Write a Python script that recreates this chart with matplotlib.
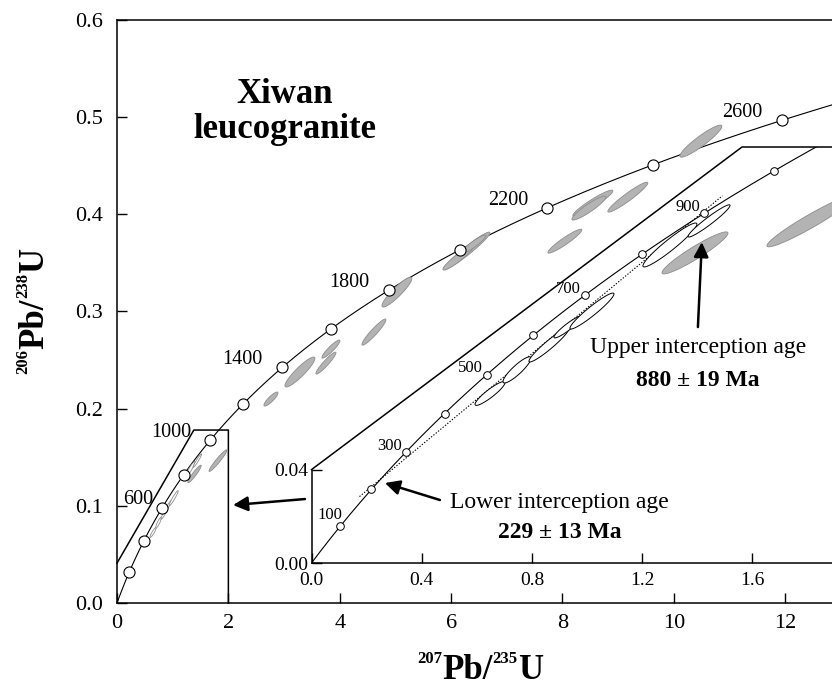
import numpy as np
import matplotlib
matplotlib.use('Agg')
import matplotlib.pyplot as plt

plt.rcParams['font.family'] = ['Liberation Serif', 'DejaVu Serif']

# decay constants (1/yr)
L238 = 1.55125e-10
L235 = 9.8485e-10

# concordia marker ages (Ma)
main_ages = [200, 400, 600, 800, 1000, 1200, 1400, 1600, 1800, 2000, 2200, 2400, 2600]
main_labels = [600, 1000, 1400, 1800, 2200, 2600]
inset_ages = [100, 200, 300, 400, 500, 600, 700, 800, 900, 1000]
inset_labels = [100, 300, 500, 700, 900]

# discordia intercepts (Ma)
lower_age = 229
upper_age = 880

# old grains, main panel only: 207Pb/235U, 206Pb/238U, half widths, rho
old_x = [2.765, 3.285, 3.752, 3.842, 4.614, 5.027, 6.302, 6.122, 6.409,
         8.546, 8.474, 9.174, 8.043, 10.485]
old_y = [0.2099, 0.2377, 0.2469, 0.2613, 0.2788, 0.3200, 0.3632, 0.3549, 0.3693,
         0.4115, 0.4064, 0.4177, 0.3724, 0.4753]
old_sx = [0.126, 0.269, 0.180, 0.162, 0.215, 0.269, 0.395, 0.269, 0.215,
          0.359, 0.305, 0.359, 0.305, 0.377]
old_sy = [0.0072, 0.0154, 0.0113, 0.0093, 0.0134, 0.0154, 0.0185, 0.0123, 0.0093,
          0.0134, 0.0123, 0.0154, 0.0123, 0.0165]
old_rho = [0.87, 0.91, 0.94, 0.92, 0.94, 0.91, 0.96, 0.93, 0.92,
           0.94, 0.92, 0.95, 0.94, 0.925]

# young grains, shown in both panels
young_x = [0.648, 0.746, 0.862, 0.931, 1.018, 1.301, 1.443, 1.392, 1.813]
young_y = [0.0726, 0.0827, 0.0934, 0.1011, 0.1079, 0.1362, 0.1465, 0.1328, 0.1465]
young_sx = [0.0544, 0.0508, 0.0726, 0.0508, 0.0799, 0.0980, 0.0762, 0.1198, 0.160]
young_sy = [0.0051, 0.0056, 0.0073, 0.0047, 0.0077, 0.0094, 0.0069, 0.0090, 0.0111]
young_rho = [0.91, 0.89, 0.95, 0.93, 0.95, 0.95, 0.96, 0.94, 0.957]
young_used = [True, True, True, True, True, True, True, False, False]

GREY_FACE = '#b3b3b3'
GREY_EDGE = '#8c8c8c'


def concordia(t_ma):
    t = np.asarray(t_ma, dtype=float) * 1e6
    return np.exp(L235 * t) - 1, np.exp(L238 * t) - 1


def ellipse(cx, cy, sx, sy, rho, n=120):
    th = np.linspace(0, 2 * np.pi, n)
    x = cx + sx * np.cos(th)
    y = cy + sy * (rho * np.cos(th) + np.sqrt(1 - rho ** 2) * np.sin(th))
    return x, y


W, H = 832, 688
fig = plt.figure(figsize=(W / 100, H / 100), dpi=100)

# ---------------- main panel ----------------
ax = fig.add_axes([117 / W, 85 / H, (W - 117) / W, 583 / H])
ax.set_xlim(0, 12.84)
ax.set_ylim(0, 0.6)
ax.spines['right'].set_visible(False)
for s in ['left', 'top', 'bottom']:
    ax.spines[s].set_linewidth(1.1)
ax.set_xticks(range(0, 13, 2))
ax.set_yticks(np.arange(0, 0.61, 0.1))
ax.set_yticklabels(['%.1f' % v for v in np.arange(0, 0.61, 0.1)])
ax.tick_params(axis='both', direction='in', length=7, width=1, labelsize=16)
ax.tick_params(axis='x', pad=8)
ax.tick_params(axis='y', pad=10)

t = np.linspace(0, 2800, 600)
cx, cy = concordia(t)
ax.plot(cx, cy, color='k', lw=0.8, zorder=2)

for i in range(len(old_x)):
    ex, ey = ellipse(old_x[i], old_y[i], old_sx[i], old_sy[i], old_rho[i])
    ax.fill(ex, ey, facecolor=GREY_FACE, edgecolor=GREY_EDGE, lw=0.6, zorder=3)

for i in range(len(young_x)):
    ex, ey = ellipse(young_x[i], young_y[i], young_sx[i], young_sy[i], young_rho[i])
    if young_used[i]:
        ax.fill(ex, ey, facecolor='white', edgecolor=GREY_EDGE, lw=0.6, zorder=3)
    else:
        ax.fill(ex, ey, facecolor=GREY_FACE, edgecolor=GREY_EDGE, lw=0.6, zorder=3)

mx, my = concordia(main_ages)
ax.plot(mx, my, 'o', ms=8, mfc='white', mec='k', mew=0.8, zorder=4)
for age in main_labels:
    px, py = concordia(age)
    off = (-6, 6) if age == 600 else (-14, 5.5)
    ax.annotate(str(age), (px, py), xytext=off, textcoords='offset points',
                ha='right', va='center', fontsize=14.5)

# zoom box
ax.plot([0, 1.38, 2.0, 2.0], [0.041, 0.178, 0.178, 0.0], color='k', lw=1.1,
        zorder=2, clip_on=False)

ax.text(3.016, 0.5051, 'Xiwan\nleucogranite', ha='center', va='center',
        fontsize=25, fontweight='bold', linespacing=1.1)
ax.text(10.432, 0.2634, 'Upper interception age', ha='center', va='center', fontsize=17)
ax.text(10.432, 0.2294, '880 ± 19 Ma', ha='center', va='center', fontsize=17,
        fontweight='bold')
ax.text(7.953, 0.1039, 'Lower interception age', ha='center', va='center', fontsize=17)
ax.text(7.953, 0.0730, '229 ± 13 Ma', ha='center', va='center', fontsize=17,
        fontweight='bold')

# ---------------- inset ----------------
ix0, iy0, itop = 311.5, 563, 147
ax_in = fig.add_axes([ix0 / W, (H - iy0) / H, (W - ix0) / W, (iy0 - itop) / H])
ax_in.patch.set_visible(False)
x_max = (W - ix0) / 275.5
y_max = (iy0 - itop) / 2335.0
ax_in.set_xlim(0, x_max)
ax_in.set_ylim(0, y_max)
ax_in.spines['top'].set_visible(False)
ax_in.spines['right'].set_visible(False)
ax_in.spines['left'].set_bounds(0, 0.04)
ax_in.spines['left'].set_linewidth(1.1)
ax_in.spines['bottom'].set_linewidth(1.1)
ax_in.set_xticks([0.0, 0.4, 0.8, 1.2, 1.6])
ax_in.set_xticklabels(['0.0', '0.4', '0.8', '1.2', '1.6'])
ax_in.set_yticks([0.0, 0.04])
ax_in.set_yticklabels(['0.00', '0.04'])
ax_in.tick_params(axis='both', direction='in', length=7, width=1, labelsize=14)
ax_in.tick_params(axis='x', pad=6.5)
ax_in.tick_params(axis='y', pad=2.5)

ax_in.plot([0, 1.5626, x_max], [0.04, y_max, y_max], color='k', lw=1.1, clip_on=False)

t = np.linspace(0, 1200, 400)
cx, cy = concordia(t)
ax_in.plot(cx, cy, color='k', lw=0.8, zorder=2)

lx, ly = concordia(lower_age)
ux, uy = concordia(upper_age)
f = np.array([-0.07, 1.1])
ax_in.plot(lx + f * (ux - lx), ly + f * (uy - ly), color='k', lw=0.8,
           ls=(0, (1.2, 1.5)), zorder=2)

for i in range(len(young_x)):
    ex, ey = ellipse(young_x[i], young_y[i], young_sx[i], young_sy[i], young_rho[i])
    if young_used[i]:
        ax_in.fill(ex, ey, facecolor='white', edgecolor='k', lw=0.7, zorder=3)
    else:
        ax_in.fill(ex, ey, facecolor=GREY_FACE, edgecolor=GREY_EDGE, lw=0.6, zorder=3)

ax_x, ax_y = concordia(inset_ages)
ax_in.plot(ax_x, ax_y, 'o', ms=5.5, mfc='white', mec='k', mew=0.7, zorder=4)
for age in inset_labels:
    px, py = concordia(age)
    off = (2, 8) if age == 100 else (-3, 4.5)
    ax_in.annotate(str(age), (px, py), xytext=off, textcoords='offset points',
                   ha='right', va='center', fontsize=12)

# arrows
arrow = dict(arrowstyle='-|>', lw=1.8, color='k', mutation_scale=22, shrinkA=0, shrinkB=0)
for tail, head in [((10.432, 0.2840), (10.503, 0.3714)),
                   ((5.799, 0.1060), (4.811, 0.1235)),
                   ((3.375, 0.1070), (2.083, 0.1008))]:
    ax_in.annotate('', xy=head, xytext=tail, xycoords=ax.transData,
                   textcoords=ax.transData, arrowprops=arrow, annotation_clip=False)


# axis labels with small superscripts
def iso_label(x, y, parts, rotation=0):
    r = fig.canvas.get_renderer()
    objs = []
    for s, size, rise in parts:
        txt = fig.text(0, 0, s, fontsize=size, fontweight='bold', rotation=rotation,
                       ha='left', va='baseline', rotation_mode='anchor')
        objs.append((txt, rise))
    sizes = []
    for txt, _ in objs:
        bb = txt.get_window_extent(r)
        sizes.append(bb.width if rotation == 0 else bb.height)
    pos = -sum(sizes) / 2
    for (txt, rise), w in zip(objs, sizes):
        if rotation == 0:
            txt.set_position(((x + pos) / W, (y + rise) / H))
        else:
            txt.set_position(((x - rise) / W, (y + pos) / H))
        pos += w


iso_label(480, 9, [('207', 12, 16), ('Pb/', 25, 0), ('235', 12, 16), ('U', 25, 0)])
iso_label(43, H - 311, [('206', 12, 16), ('Pb/', 25, 0), ('238', 12, 16), ('U', 25, 0)],
          rotation=90)

fig.savefig('out.png', dpi=100)
